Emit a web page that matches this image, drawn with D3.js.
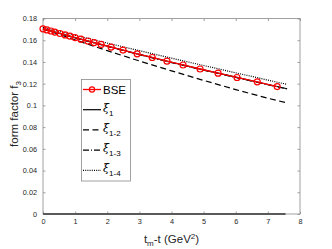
<!DOCTYPE html>
<html><head><meta charset="utf-8">
<script src="https://cdn.jsdelivr.net/npm/d3@7"></script>
<style>body{margin:0;background:#fff;}svg{display:block;font-family:"Liberation Sans",Arial,sans-serif;}</style>
</head><body>
<script>
// ---- data ----
const bseX = [0, 0.12, 0.25, 0.37, 0.53, 0.69, 0.84, 1.0, 1.18, 1.40, 1.59, 1.81, 2.12, 2.49, 2.93, 3.40, 3.86, 4.36, 4.89, 5.45, 6.04, 6.67, 7.29];
const bseY = [0.1705, 0.1695, 0.1685, 0.1675, 0.1662, 0.1649, 0.1637, 0.1624, 0.1610, 0.1593, 0.1578, 0.1561, 0.1537, 0.1509, 0.1475, 0.1441, 0.1407, 0.1372, 0.1335, 0.1297, 0.1257, 0.1217, 0.1173];
const fitX = [0, 1, 2, 3, 4, 5, 6, 7, 7.6];
const xi1   = [0.1705, 0.1624, 0.1546, 0.1470, 0.1397, 0.1327, 0.1260, 0.1192, 0.1153];
const xi12  = [0.1705, 0.1603, 0.1504, 0.1409, 0.1318, 0.1230, 0.1145, 0.1066, 0.1022];
const xi13  = [0.1703, 0.1621, 0.1543, 0.1467, 0.1394, 0.1324, 0.1257, 0.1190, 0.1151];
const xi14  = [0.1718, 0.1645, 0.1574, 0.1504, 0.1435, 0.1367, 0.1300, 0.1233, 0.1193];
const zeroX = [0, 7.55];
const zeroY = [0, 0];
const xTicks = [0, 1, 2, 3, 4, 5, 6, 7, 8];
const yTicks = [0, 0.02, 0.04, 0.06, 0.08, 0.1, 0.12, 0.14, 0.16, 0.18];
const legendLabels = ["BSE", "1", "1-2", "1-3", "1-4"];

// ---- layout ----
const W = 332, H = 249;
const L = 43, R = 300, T = 18.5, B = 214;
const svg = d3.select("body").append("svg").attr("width", W).attr("height", H);
const x = d3.scaleLinear().domain([0, 8]).range([L, R]);
const y = d3.scaleLinear().domain([0, 0.18]).range([B, T]);
const axisCol = "#8a8a8a", txtCol = "#262626";

// box
svg.append("rect").attr("x", L).attr("y", T).attr("width", R - L).attr("height", B - T)
  .attr("fill", "none").attr("stroke", axisCol).attr("stroke-width", 0.8);

// axes ticks (inward) via d3 axes
const tl = 2.5;
const gB = svg.append("g").attr("transform", `translate(0,${B})`)
  .call(d3.axisBottom(x).tickValues(xTicks).tickSizeInner(-tl).tickSizeOuter(0).tickPadding(6).tickFormat(d3.format("d")));
const gT = svg.append("g").attr("transform", `translate(0,${T})`)
  .call(d3.axisTop(x).tickValues(xTicks).tickSizeInner(-tl).tickSizeOuter(0).tickFormat(""));
const gL = svg.append("g").attr("transform", `translate(${L},0)`)
  .call(d3.axisLeft(y).tickValues(yTicks).tickSizeInner(-tl).tickSizeOuter(0).tickPadding(6).tickFormat(d => d === 0 ? "0" : d3.format(".2~f")(d)));
const gR = svg.append("g").attr("transform", `translate(${R},0)`)
  .call(d3.axisRight(y).tickValues(yTicks).tickSizeInner(-tl).tickSizeOuter(0).tickFormat(""));
[gB, gT, gL, gR].forEach(g => {
  g.select(".domain").remove();
  g.selectAll(".tick line").attr("stroke", axisCol).attr("stroke-width", 0.8);
  g.selectAll(".tick text").attr("fill", txtCol).attr("font-size", 7.3).attr("font-family", "Liberation Sans, Arial, sans-serif");
});
gB.selectAll(".tick text").attr("dy", "0.71em").attr("y", 5);

const line = d3.line().x(d => x(d[0])).y(d => y(d[1]));
const zip = (a, b) => a.map((v, i) => [v, b[i]]);

// zero-level line along the bottom
svg.append("path").attr("d", line(zip(zeroX, zeroY))).attr("fill", "none")
  .attr("stroke", "#5a5a5a").attr("stroke-width", 2);

const styles = [
  {data: xi1,  dash: null},
  {data: xi12, dash: "6,3.5"},
  {data: xi13, dash: "6,2,1,2"},
  {data: xi14, dash: "1,1.2"}
];
styles.forEach(s => {
  svg.append("path").attr("d", line(zip(fitX, s.data))).attr("fill", "none")
    .attr("stroke", "#000").attr("stroke-width", 1.2).attr("stroke-dasharray", s.dash);
});

// BSE
svg.append("path").attr("d", line(zip(bseX, bseY))).attr("fill", "none")
  .attr("stroke", "#ff0000").attr("stroke-width", 1.3);
svg.append("g").selectAll("circle").data(zip(bseX, bseY)).join("circle")
  .attr("cx", d => x(d[0])).attr("cy", d => y(d[1])).attr("r", 3)
  .attr("fill", "none").attr("stroke", "#ff0000").attr("stroke-width", 1.2);

// axis labels
const xl = svg.append("text").attr("x", (L + R) / 2).attr("y", 243).attr("text-anchor", "middle")
  .attr("font-size", 11.5).attr("fill", txtCol);
xl.append("tspan").text("t");
xl.append("tspan").attr("font-size", 8).attr("dy", 3).text("m");
xl.append("tspan").attr("dy", -3).text("-t (GeV");
xl.append("tspan").attr("font-size", 8).attr("dy", -4.5).text("2");
xl.append("tspan").attr("dy", 4.5).text(")");

const yl = svg.append("text").attr("transform", `translate(18,114) rotate(-90)`).attr("text-anchor", "middle")
  .attr("font-size", 11.5).attr("fill", txtCol);
yl.append("tspan").text("form factor f");
yl.append("tspan").attr("font-size", 8).attr("dy", 3).text("3");

// legend
const lg = svg.append("g");
lg.append("rect").attr("x", 81.5).attr("y", 79.5).attr("width", 49).attr("height", 101.5)
  .attr("fill", "#fff").attr("stroke", axisCol).attr("stroke-width", 0.8);
const rowY = i => 89.5 + i * 20.2;
const lx0 = 83, lx1 = 101, tx = 103;
// BSE row
lg.append("line").attr("x1", lx0).attr("x2", lx1).attr("y1", rowY(0)).attr("y2", rowY(0))
  .attr("stroke", "#ff0000").attr("stroke-width", 1.3);
lg.append("circle").attr("cx", (lx0 + lx1) / 2).attr("cy", rowY(0)).attr("r", 2.6)
  .attr("fill", "none").attr("stroke", "#ff0000").attr("stroke-width", 1.2);
lg.append("text").attr("x", tx).attr("y", rowY(0) + 4).attr("font-size", 11.5).attr("fill", "#000").text(legendLabels[0]);
styles.forEach((s, k) => {
  const i = k + 1;
  lg.append("line").attr("x1", lx0).attr("x2", lx1).attr("y1", rowY(i)).attr("y2", rowY(i))
    .attr("stroke", "#000").attr("stroke-width", 1.2).attr("stroke-dasharray", s.dash);
  const t = lg.append("text").attr("x", tx).attr("y", rowY(i) + 2).attr("font-size", 11.5).attr("fill", "#000");
  t.append("tspan").attr("font-family", "DejaVu Serif, serif").attr("font-style", "italic").attr("font-size", 11).text("ξ");
  t.append("tspan").attr("font-size", 8).attr("dy", 4).text(legendLabels[i]);
});
</script>
</body></html>
